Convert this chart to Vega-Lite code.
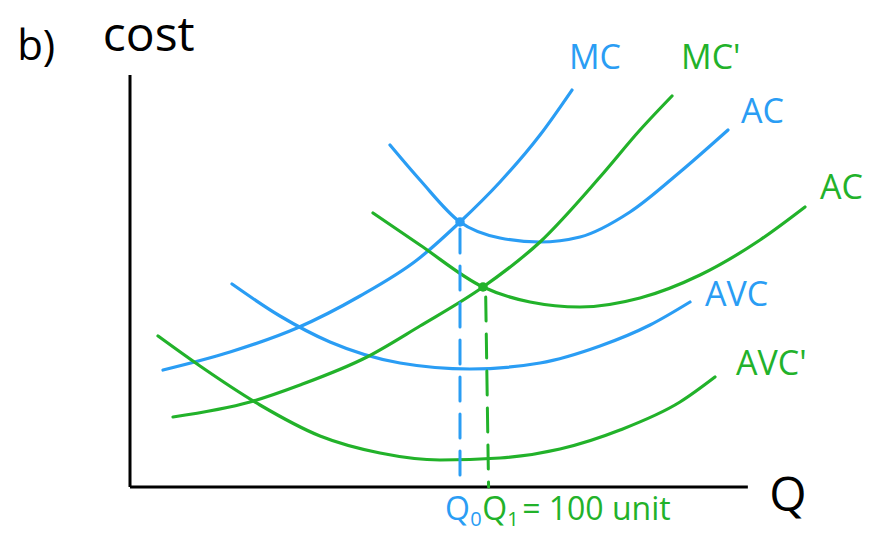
{
  "$schema": "https://vega.github.io/schema/vega-lite/v6.json",
  "width": 877,
  "height": 538,
  "autosize": {"type": "fit", "contains": "padding"},
  "padding": 0,
  "background": "white",
  "config": {"view": {"stroke": null}},
  "datasets": {
    "axes": [
      {"x": 0, "y": 0, "x2": 0, "y2": 103},
      {"x": 0, "y": 0, "x2": 173, "y2": 0}
    ],
    "curves": [
      {"curve": "MC", "firm": "original", "Q": 9.24, "cost": 29.25},
      {"curve": "MC", "firm": "original", "Q": 28.0, "cost": 33.75},
      {"curve": "MC", "firm": "original", "Q": 46.76, "cost": 39.75},
      {"curve": "MC", "firm": "original", "Q": 64.4, "cost": 47.75},
      {"curve": "MC", "firm": "original", "Q": 80.36, "cost": 56.75},
      {"curve": "MC", "firm": "original", "Q": 92.4, "cost": 66.25},
      {"curve": "MC", "firm": "original", "Q": 103.6, "cost": 76.25},
      {"curve": "MC", "firm": "original", "Q": 114.8, "cost": 88},
      {"curve": "MC", "firm": "original", "Q": 123.76, "cost": 99.25},
      {"curve": "AC", "firm": "original", "Q": 72.8, "cost": 85.5},
      {"curve": "AC", "firm": "original", "Q": 81.2, "cost": 76.75},
      {"curve": "AC", "firm": "original", "Q": 92.4, "cost": 66.25},
      {"curve": "AC", "firm": "original", "Q": 103.6, "cost": 62.25},
      {"curve": "AC", "firm": "original", "Q": 114.8, "cost": 61.25},
      {"curve": "AC", "firm": "original", "Q": 126, "cost": 62.5},
      {"curve": "AC", "firm": "original", "Q": 140, "cost": 68.75},
      {"curve": "AC", "firm": "original", "Q": 154, "cost": 78.75},
      {"curve": "AC", "firm": "original", "Q": 167.44, "cost": 89.25},
      {"curve": "AVC", "firm": "original", "Q": 28.56, "cost": 50.75},
      {"curve": "AVC", "firm": "original", "Q": 42, "cost": 42.75},
      {"curve": "AVC", "firm": "original", "Q": 56, "cost": 36.25},
      {"curve": "AVC", "firm": "original", "Q": 75.6, "cost": 31},
      {"curve": "AVC", "firm": "original", "Q": 95.2, "cost": 29.5},
      {"curve": "AVC", "firm": "original", "Q": 114.8, "cost": 31},
      {"curve": "AVC", "firm": "original", "Q": 131.6, "cost": 35.25},
      {"curve": "AVC", "firm": "original", "Q": 145.6, "cost": 40.5},
      {"curve": "AVC", "firm": "original", "Q": 156.8, "cost": 46.25},
      {"curve": "MC'", "firm": "new", "Q": 12.04, "cost": 17.5},
      {"curve": "MC'", "firm": "new", "Q": 33.6, "cost": 21.25},
      {"curve": "MC'", "firm": "new", "Q": 47.6, "cost": 25.5},
      {"curve": "MC'", "firm": "new", "Q": 66.36, "cost": 32.5},
      {"curve": "MC'", "firm": "new", "Q": 81.2, "cost": 40.25},
      {"curve": "MC'", "firm": "new", "Q": 98.84, "cost": 50},
      {"curve": "MC'", "firm": "new", "Q": 114.8, "cost": 61.25},
      {"curve": "MC'", "firm": "new", "Q": 131.6, "cost": 77.5},
      {"curve": "MC'", "firm": "new", "Q": 142.8, "cost": 89.25},
      {"curve": "MC'", "firm": "new", "Q": 151.76, "cost": 97.75},
      {"curve": "AC'", "firm": "new", "Q": 68.04, "cost": 68.5},
      {"curve": "AC'", "firm": "new", "Q": 81.2, "cost": 60.5},
      {"curve": "AC'", "firm": "new", "Q": 98.84, "cost": 50},
      {"curve": "AC'", "firm": "new", "Q": 112, "cost": 46.25},
      {"curve": "AC'", "firm": "new", "Q": 126, "cost": 45},
      {"curve": "AC'", "firm": "new", "Q": 142.8, "cost": 47.25},
      {"curve": "AC'", "firm": "new", "Q": 159.6, "cost": 53},
      {"curve": "AC'", "firm": "new", "Q": 176.4, "cost": 61.75},
      {"curve": "AC'", "firm": "new", "Q": 189, "cost": 70},
      {"curve": "AVC'", "firm": "new", "Q": 7.84, "cost": 37.75},
      {"curve": "AVC'", "firm": "new", "Q": 19.6, "cost": 30.25},
      {"curve": "AVC'", "firm": "new", "Q": 36.4, "cost": 20.5},
      {"curve": "AVC'", "firm": "new", "Q": 53.2, "cost": 12.75},
      {"curve": "AVC'", "firm": "new", "Q": 70, "cost": 8.5},
      {"curve": "AVC'", "firm": "new", "Q": 86.8, "cost": 6.75},
      {"curve": "AVC'", "firm": "new", "Q": 103.6, "cost": 7.25},
      {"curve": "AVC'", "firm": "new", "Q": 120.4, "cost": 9.5},
      {"curve": "AVC'", "firm": "new", "Q": 137.2, "cost": 14.25},
      {"curve": "AVC'", "firm": "new", "Q": 154, "cost": 21.25},
      {"curve": "AVC'", "firm": "new", "Q": 163.8, "cost": 27.5}
    ],
    "guides": [
      {"guide": "Q0", "firm": "original", "Q": 92.4, "cost": 64.5},
      {"guide": "Q0", "firm": "original", "Q": 92.4, "cost": 0},
      {"guide": "Q1", "firm": "new", "Q": 99.6, "cost": 47.5},
      {"guide": "Q1", "firm": "new", "Q": 100.4, "cost": 0}
    ],
    "equilibria": [
      {"firm": "original", "Q": 92.4, "cost": 66.25},
      {"firm": "new", "Q": 98.84, "cost": 50}
    ],
    "labels": [
      {"label": "b)", "firm": "axis", "Q": -31.6, "cost": 110, "kind": "big"},
      {"label": "cost", "firm": "axis", "Q": -7.6, "cost": 112.5, "kind": "huge"},
      {"label": "MC", "firm": "original", "Q": 122.9, "cost": 107, "kind": "curve"},
      {"label": "MC'", "firm": "new", "Q": 154.3, "cost": 107, "kind": "curve"},
      {"label": "AC", "firm": "original", "Q": 171.1, "cost": 93.5, "kind": "curve"},
      {"label": "AC", "firm": "new", "Q": 193.2, "cost": 74.5, "kind": "curve"},
      {"label": "AVC", "firm": "original", "Q": 161.0, "cost": 47.75, "kind": "curve"},
      {"label": "AVC'", "firm": "new", "Q": 169.7, "cost": 30.5, "kind": "curve"},
      {"label": "Q", "firm": "axis", "Q": 179.0, "cost": -2.5, "kind": "huge"},
      {"label": "Q", "firm": "original", "Q": 88.2, "cost": -5.75, "kind": "foot"},
      {"label": "0", "firm": "original", "Q": 95.3, "cost": -8.25, "kind": "sub"},
      {"label": "Q", "firm": "new", "Q": 98.6, "cost": -5.75, "kind": "foot"},
      {"label": "1", "firm": "new", "Q": 105.6, "cost": -8.25, "kind": "sub"},
      {"label": "= 100 unit", "firm": "new", "Q": 109.8, "cost": -5.75, "kind": "foot"}
    ]
  },
  "layer": [
    {
      "data": {"name": "axes"},
      "mark": {"type": "rule", "color": "black", "strokeWidth": 3},
      "encoding": {
        "x": {"field": "x", "type": "quantitative", "scale": {"domain": [-36.4, 209.16], "nice": false, "zero": false}, "axis": null},
        "y": {"field": "y", "type": "quantitative", "scale": {"domain": [-12.75, 121.75], "nice": false, "zero": false}, "axis": null},
        "x2": {"field": "x2"},
        "y2": {"field": "y2"}
      }
    },
    {
      "data": {"name": "curves"},
      "mark": {"type": "line", "strokeWidth": 3.2, "interpolate": "monotone", "strokeCap": "round"},
      "encoding": {
        "x": {"field": "Q", "type": "quantitative"},
        "y": {"field": "cost", "type": "quantitative"},
        "detail": {"field": "curve"},
        "order": {"field": "Q"},
        "color": {"field": "firm", "type": "nominal", "scale": {"domain": ["original", "new", "axis"], "range": ["#2A9DF4", "#22B22A", "#000000"]}, "legend": null}
      }
    },
    {
      "data": {"name": "guides"},
      "mark": {"type": "line", "strokeWidth": 3, "strokeDash": [24, 13], "strokeCap": "round"},
      "encoding": {
        "x": {"field": "Q", "type": "quantitative"},
        "y": {"field": "cost", "type": "quantitative"},
        "detail": {"field": "guide"},
        "color": {"field": "firm", "type": "nominal", "legend": null}
      }
    },
    {
      "data": {"name": "equilibria"},
      "mark": {"type": "circle", "size": 90, "opacity": 1},
      "encoding": {
        "x": {"field": "Q", "type": "quantitative"},
        "y": {"field": "cost", "type": "quantitative"},
        "color": {"field": "firm", "type": "nominal", "legend": null}
      }
    },
    {
      "data": {"name": "labels"},
      "transform": [{"filter": "datum.kind === 'huge'"}],
      "mark": {"type": "text", "align": "left", "baseline": "middle", "font": "Open Sans", "fontSize": 48},
      "encoding": {
        "x": {"field": "Q", "type": "quantitative"},
        "y": {"field": "cost", "type": "quantitative"},
        "text": {"field": "label"},
        "color": {"field": "firm", "type": "nominal", "legend": null}
      }
    },
    {
      "data": {"name": "labels"},
      "transform": [{"filter": "datum.kind === 'big'"}],
      "mark": {"type": "text", "align": "left", "baseline": "middle", "font": "Open Sans", "fontSize": 42},
      "encoding": {
        "x": {"field": "Q", "type": "quantitative"},
        "y": {"field": "cost", "type": "quantitative"},
        "text": {"field": "label"},
        "color": {"field": "firm", "type": "nominal", "legend": null}
      }
    },
    {
      "data": {"name": "labels"},
      "transform": [{"filter": "datum.kind === 'curve'"}],
      "mark": {"type": "text", "align": "left", "baseline": "middle", "font": "Open Sans", "fontSize": 34},
      "encoding": {
        "x": {"field": "Q", "type": "quantitative"},
        "y": {"field": "cost", "type": "quantitative"},
        "text": {"field": "label"},
        "color": {"field": "firm", "type": "nominal", "legend": null}
      }
    },
    {
      "data": {"name": "labels"},
      "transform": [{"filter": "datum.kind === 'foot'"}],
      "mark": {"type": "text", "align": "left", "baseline": "middle", "font": "Open Sans", "fontSize": 32},
      "encoding": {
        "x": {"field": "Q", "type": "quantitative"},
        "y": {"field": "cost", "type": "quantitative"},
        "text": {"field": "label"},
        "color": {"field": "firm", "type": "nominal", "legend": null}
      }
    },
    {
      "data": {"name": "labels"},
      "transform": [{"filter": "datum.kind === 'sub'"}],
      "mark": {"type": "text", "align": "left", "baseline": "middle", "font": "Open Sans", "fontSize": 20},
      "encoding": {
        "x": {"field": "Q", "type": "quantitative"},
        "y": {"field": "cost", "type": "quantitative"},
        "text": {"field": "label"},
        "color": {"field": "firm", "type": "nominal", "legend": null}
      }
    }
  ]
}
